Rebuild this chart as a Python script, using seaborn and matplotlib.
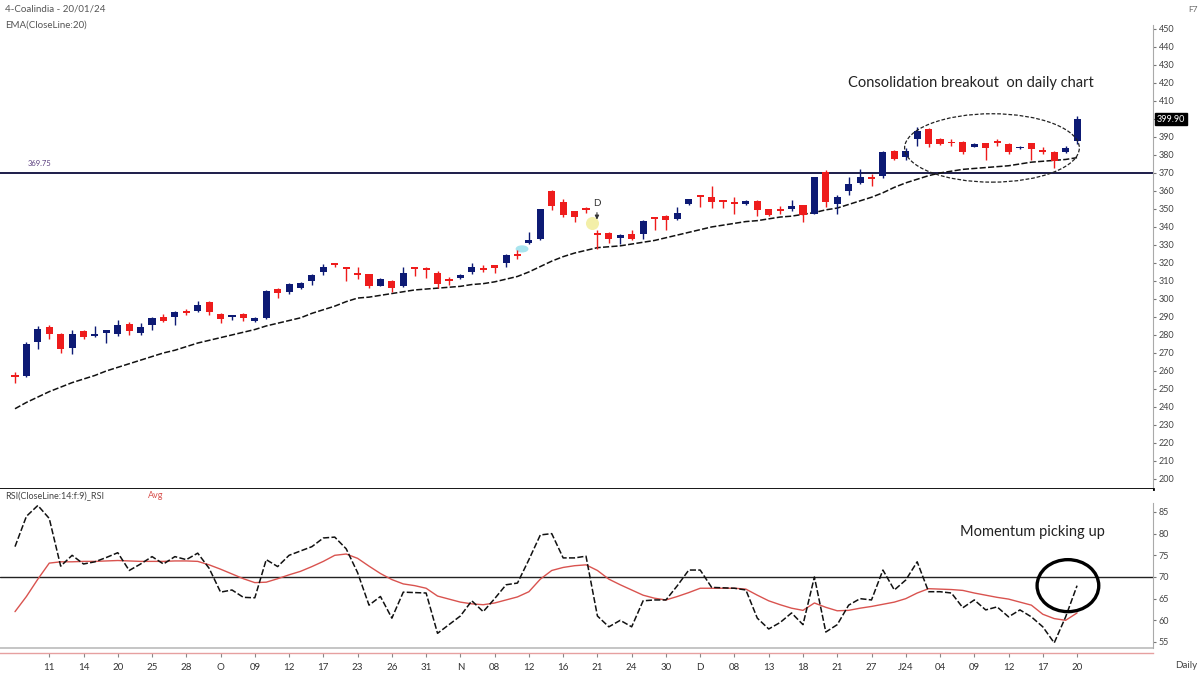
"""
Coal India daily candles with EMA(20), the 369.75 breakout level
and an RSI(14) panel with its signal average.
"""

import numpy as np
import pandas as pd
import matplotlib
matplotlib.use("Agg")
import matplotlib.pyplot as plt
from matplotlib.patches import Ellipse
import seaborn as sns

# --------------------------------------------------------------------------
# Data
# --------------------------------------------------------------------------
OPEN = [257, 257, 276, 284.5, 280.5, 273, 282.3, 279.5, 281, 280.5,
        286, 281, 285.6, 289.7, 289.7, 293, 293.5, 298.2, 291.7, 290,
        291.7, 287.5, 289.3, 305.5, 304.1, 306.3, 309.7, 314.7, 319.2, 317,
        314.5, 313.6, 307.4, 309.9, 307.4, 317.2, 317.3, 314.2, 310.5, 311.8,
        314.7, 317.3, 318.6, 320.1, 325.2, 331.3, 333.5, 359.7, 353.8, 348.6,
        350, 336, 336.9, 334, 336.3, 336.3, 345, 346.1, 344.6, 352.9,
        357.6, 356.7, 354.8, 353.2, 352.5, 354.4, 349.7, 350.1, 350.2, 352,
        347.3, 370.4, 352.9, 360.2, 364.5, 367.6, 368.1, 382.3, 378.7, 388.8,
        394.7, 388.8, 387.3, 387.3, 384.7, 386.4, 387.2, 386, 383.6, 386.4,
        382.7, 381.8, 381.4, 387.9]
HIGH = [259.5, 276, 285, 285.5, 281, 283, 283, 285, 283, 288.5,
        287, 286.6, 290, 291.5, 293.5, 294.5, 298.7, 299, 292.2, 291,
        292.2, 289.8, 305, 306, 309, 309.6, 313.8, 319.2, 320, 317.3,
        317.5, 314, 311.4, 310.4, 317.5, 317.8, 317.8, 315.6, 312.4, 313.8,
        319.7, 318.9, 319, 325.1, 327.2, 337.2, 350.2, 360.8, 355.3, 349,
        351, 338.1, 337.4, 335.9, 338.1, 343.6, 345.5, 346.5, 351, 355.8,
        358, 363, 355.2, 356.6, 354.9, 354.9, 350.2, 351.6, 354.8, 352.4,
        368, 371.7, 357.8, 367.6, 372.2, 369.4, 382.3, 382.8, 383.6, 395.8,
        395.2, 389.3, 388.8, 387.8, 386.4, 386.9, 388.8, 386.5, 385, 386.9,
        384.7, 382.3, 385.1, 401.7]
LOW = [253.5, 256.5, 272, 278, 270, 269.5, 277.5, 279, 275.5, 279.5,
       280, 280, 283, 287, 285.5, 291, 293, 291.3, 286.6, 288.4,
       287.5, 287, 288.8, 300.8, 303, 305.8, 307.8, 313.3, 318, 310,
       311, 306, 307, 303.7, 306.9, 312.5, 311.4, 305.9, 307.8, 311.3,
       313.6, 314.7, 314.2, 317.5, 322.1, 330.8, 333, 349.3, 345.5, 342.8,
       347.9, 328, 331.3, 330.8, 333, 333.5, 338.1, 338.1, 344, 352.4,
       351, 350.4, 350.6, 347.3, 352, 346.1, 346, 347.3, 348.6, 342.8,
       347, 351, 347.3, 357.5, 364, 363, 367, 377.2, 377.3, 385.1,
       384.7, 385.5, 385.1, 380.5, 384.2, 377.2, 385.1, 380.5, 383.1, 377.3,
       380.5, 372.6, 381, 386]
CLOSE = [256.5, 275, 283.5, 280.5, 272, 280.5, 278.7, 280, 282.5, 285.5,
         282, 284.2, 289.3, 288, 292.7, 292.3, 296.4, 293, 289, 290.6,
         289.3, 289.3, 304.4, 303.1, 308.5, 309.1, 313.3, 317.9, 318.7, 316.5,
         313.5, 307.4, 310.9, 306.3, 314.2, 316.8, 316, 308.1, 310, 313.3,
         317.9, 316.2, 317.3, 324.3, 324, 332.6, 349.7, 351.6, 346.8, 345.5,
         349.5, 335.5, 333.5, 335.4, 333.5, 343.1, 344.3, 343.7, 347.9, 355.3,
         356.8, 353.8, 353.9, 352.6, 354.4, 349.3, 346.5, 348.6, 351.5, 346.5,
         367.6, 353.8, 356.6, 363.9, 367.6, 366.7, 381.8, 377.7, 382.3, 393.4,
         386, 386, 386.4, 381.8, 385.9, 383.6, 386.6, 381.8, 384.5, 383.2,
         381.8, 376.9, 383.6, 399.9]
EMA20 = [239, 242.5, 245.5, 248.5, 251, 253.5, 255.5, 257.5, 260, 262,
         264, 266, 268, 270, 271.5, 273.5, 275.5, 277, 278.5, 280,
         281.5, 283, 285, 286.5, 288, 289.5, 292, 294, 296, 298.5,
         300.5, 301, 302, 303, 304, 305, 305.5, 306, 306.5, 307,
         308, 308.5, 309.5, 311, 312.5, 315, 318, 321, 323.5, 325.5,
         327, 328.5, 329, 329.5, 330.5, 331.5, 332.5, 334, 335.5, 337,
         338.5, 340, 341, 342, 343, 343.5, 344.5, 345.5, 346, 347,
         348, 349.5, 350.5, 352.5, 354.5, 356.5, 359, 362, 364.5, 366.5,
         368.5, 370, 371, 372, 372.5, 373, 373.5, 374, 375, 376,
         376.5, 377, 377.5, 378.5]
RSI = [77, 84, 86.5, 83.5, 72.5, 75, 73, 73.5, 74.5, 75.6,
       71.5, 73, 74.7, 73, 74.7, 74, 75.5, 72, 66.5, 67,
       65.3, 65.2, 74, 72.4, 75, 76, 77, 79, 79.2, 76.5,
       71, 63.5, 65.5, 60.5, 66.5, 66.4, 66.3, 57, 59, 61,
       64.5, 62, 65, 68.2, 68.6, 74, 79.7, 80, 74.4, 74.4,
       74.8, 61, 58.5, 60, 58.5, 64.5, 64.7, 64.7, 68, 71.6,
       71.6, 67.6, 67.5, 67.4, 67, 60.5, 58, 59.5, 61.7, 59,
       70, 57.3, 59, 63.5, 65, 64.7, 71.6, 67, 69.3, 73.5,
       66.6, 66.6, 66.3, 62.9, 64.7, 62.4, 63.1, 60.8, 62.4, 60.8,
       58.5, 54.8, 60.8, 68]
RSI_AVG = [62, 65.5, 69.5, 73.2, 73.5, 73.5, 73.6, 73.6, 73.7, 73.8,
           73.7, 73.6, 73.6, 73.6, 73.7, 73.7, 73.6, 72.8, 71.8, 70.7,
           69.6, 68.7, 68.8, 69.6, 70.5, 71.3, 72.4, 73.6, 75, 75.3,
           74.3, 72.5, 70.8, 69.4, 68.4, 68, 67.4, 65.6, 64.9, 64.2,
           63.8, 63.6, 64, 64.7, 65.4, 66.6, 69.5, 71.5, 72.2, 72.6,
           72.8, 71.5, 69.5, 68.2, 67, 65.8, 65.1, 64.7, 65.5, 66.4,
           67.4, 67.4, 67.4, 67.4, 67.2, 65.8, 64.5, 63.6, 62.8, 62.3,
           64, 63, 62.2, 62.3, 62.8, 63.2, 63.7, 64.2, 65, 66.3,
           67.3, 67.2, 67.1, 66.9, 66.3, 65.8, 65.3, 64.9, 64.2, 63.5,
           61.4, 60.4, 60, 61.7]
X_LABELS = ["11", "14", "20", "25", "28", "O", "09", "12", "17", "23", "26",
            "31", "N", "08", "12", "16", "21", "24", "30", "D", "08", "13",
            "18", "21", "27", "J24", "04", "09", "12", "17", "20"]
PRICE_TICKS = list(range(200, 451, 10))
RSI_TICKS = [55, 60, 65, 70, 75, 80, 85]
SUPPORT = 369.75
RSI_LEVEL = 70

# --------------------------------------------------------------------------
# Layout / style
# --------------------------------------------------------------------------
W, H = 1198, 675
PX_PER_BAR = 11.42
FIRST_BAR_PX = 15
UP_COLOR = "#0D1A74"
DOWN_COLOR = "#EE1C1C"
AVG_COLOR = "#D9534F"


def fx(px):
    return px / W


def fy(py):
    return 1 - py / H


def main():
    sns.set_theme(style="white")
    plt.rcParams["font.family"] = ["Lato", "DejaVu Sans"]

    df = pd.DataFrame({"open": OPEN, "high": HIGH, "low": LOW, "close": CLOSE,
                       "ema": EMA20, "rsi": RSI, "avg": RSI_AVG})
    df["idx"] = np.arange(len(df))

    fig = plt.figure(figsize=(W / 100, H / 100), dpi=100)
    ax_p = fig.add_axes([0, fy(489), fx(1153), 489 / H])
    ax_r = fig.add_axes([0, fy(653), fx(1153), 164 / H])

    xlim = (-FIRST_BAR_PX / PX_PER_BAR, (1153 - FIRST_BAR_PX) / PX_PER_BAR)

    # --- Price panel ---
    up = df["close"] >= df["open"]
    colors = np.where(up, UP_COLOR, DOWN_COLOR)
    ax_p.vlines(df["idx"], df["low"], df["high"], colors=colors, lw=1, zorder=3)
    body = (df["close"] - df["open"]).abs().clip(lower=1.0)
    ax_p.bar(df["idx"], body, bottom=np.minimum(df["open"], df["close"]),
             width=0.62, color=colors, linewidth=0, zorder=4)

    sns.lineplot(data=df, x="idx", y="ema", ax=ax_p, color="#111111",
                 lw=1.1, ls=(0, (4, 1.5)), zorder=2)
    ax_p.axhline(SUPPORT, color="#1C1C4A", lw=1.4, zorder=1)

    # highlight markers near the D signal
    ax_p.add_patch(Ellipse((44.4, 327.8), 1.0, 3.2, angle=0,
                           color="#A8E4EE", zorder=1))
    ax_p.scatter([50.5], [342.2], s=70, color="#F3EFA8", zorder=1)
    ax_p.text(50.96, 353, "D", fontsize=7, ha="center", va="center", color="#333")
    ax_p.annotate("", xy=(50.96, 342.5), xytext=(50.96, 349.5),
                  arrowprops=dict(arrowstyle="-|>", lw=0.8, color="#333",
                                  mutation_scale=6))

    # consolidation ellipse
    ax_p.add_patch(Ellipse((85.55, 383.9), 15.3, 38, fill=False, ec="#222222",
                           lw=0.9, ls=(0, (3, 1.5)), zorder=5))

    ax_p.set_xlim(*xlim)
    ax_p.set_ylim(194.4, 466.1)
    ax_p.set_xticks([])
    ax_p.set_yticks(PRICE_TICKS)
    # the last-price tag sits over the nearest tick label
    nearest = min(PRICE_TICKS, key=lambda t: abs(t - CLOSE[-1]))
    ax_p.set_yticklabels(["" if t == nearest else str(t) for t in PRICE_TICKS])
    ax_p.yaxis.tick_right()
    ax_p.tick_params(axis="y", right=True, left=False, length=2, width=0.8,
                     color="#777", labelsize=6.5, labelcolor="#444", pad=2)
    ax_p.set_xlabel("")
    ax_p.set_ylabel("")
    for side in ("top", "left"):
        ax_p.spines[side].set_visible(False)
    ax_p.spines["right"].set_color("#AAAAAA")
    ax_p.spines["right"].set_linewidth(0.8)
    ax_p.spines["right"].set_bounds(194.4, 452)
    ax_p.spines["bottom"].set_color("black")
    ax_p.spines["bottom"].set_linewidth(2)

    ax_p.text(1.003, CLOSE[-1], f"{CLOSE[-1]:.2f}", transform=ax_p.get_yaxis_transform(),
              fontsize=6.5, color="white", ha="left", va="center", clip_on=False,
              zorder=10, bbox=dict(boxstyle="square,pad=0.2", fc="black", ec="black"))

    # --- RSI panel ---
    sns.lineplot(data=df, x="idx", y="rsi", ax=ax_r, color="#111111",
                 lw=1.1, ls=(0, (4, 1.5)), zorder=3)
    sns.lineplot(data=df, x="idx", y="avg", ax=ax_r, color=AVG_COLOR,
                 lw=1.0, zorder=2)
    ax_r.axhline(RSI_LEVEL, color="#222222", lw=1.0, zorder=1)
    ax_r.axhline(53.6, color="#BBBBBB", lw=1.2, zorder=1)
    ax_r.add_patch(Ellipse((92.2, 68.0), 5.4, 12.0, fill=False, ec="black",
                           lw=2.4, zorder=5))

    ax_r.set_xlim(*xlim)
    ax_r.set_ylim(52.46, 90.3)
    ax_r.set_yticks(RSI_TICKS)
    ax_r.yaxis.tick_right()
    ax_r.tick_params(axis="y", right=True, left=False, length=2, width=0.8,
                     color="#777", labelsize=6.5, labelcolor="#444", pad=2)
    ax_r.set_xticks(np.arange(3, len(df), 3))
    ax_r.set_xticklabels(X_LABELS)
    ax_r.tick_params(axis="x", bottom=True, length=3, width=0.8, color="#888",
                     labelsize=7, labelcolor="#333", pad=4)
    ax_r.set_xlabel("")
    ax_r.set_ylabel("")
    for side in ("top", "left"):
        ax_r.spines[side].set_visible(False)
    ax_r.spines["right"].set_color("#AAAAAA")
    ax_r.spines["right"].set_linewidth(0.8)
    ax_r.spines["right"].set_bounds(53.5, 87)
    ax_r.spines["bottom"].set_color("#E6A0A0")
    ax_r.spines["bottom"].set_linewidth(1)

    # --- Texts ---
    fig.text(fx(5), fy(9), "4-Coalindia - 20/01/24", fontsize=7, color="#555",
             va="center")
    fig.text(fx(5), fy(25), "EMA(CloseLine:20)", fontsize=7, color="#555",
             va="center")
    fig.text(fx(28), fy(164), f"{SUPPORT:.2f}", fontsize=5.5, color="#5B3F7F",
             va="center")
    fig.text(fx(5), fy(496), "RSI(CloseLine:14:f:9)_RSI", fontsize=6.5,
             color="#444", va="center")
    fig.text(fx(148), fy(496), "Avg", fontsize=6.5, color=AVG_COLOR, va="center")
    fig.text(fx(1188), fy(10), "F7", fontsize=6, color="#666", va="center")
    fig.text(fx(1175), fy(665), "Daily", fontsize=7, color="#444", va="center")
    fig.text(fx(848), fy(83), "Consolidation breakout  on daily chart",
             fontsize=10.5, color="#222", va="center")
    fig.text(fx(960), fy(532), "Momentum picking up", fontsize=10.5,
             color="#222", va="center")

    fig.savefig("out.png", dpi=100)
    plt.close(fig)


if __name__ == "__main__":
    main()
